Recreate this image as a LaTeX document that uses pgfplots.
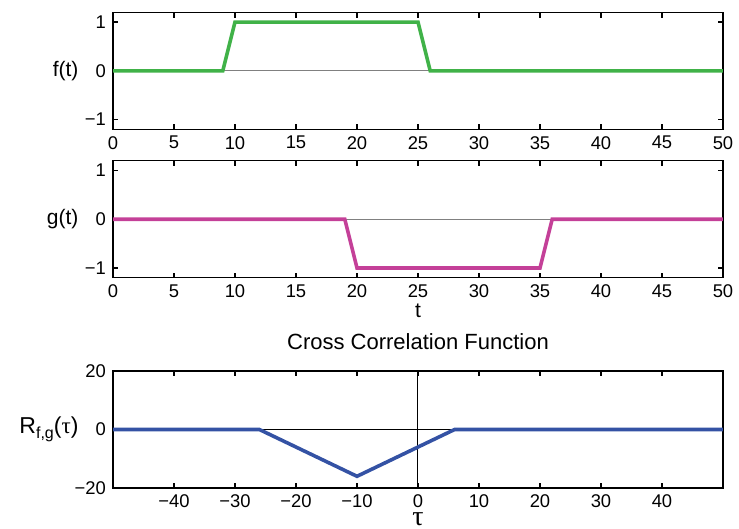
\documentclass[border=0pt]{standalone}
\usepackage{fontspec}
\setmainfont{Liberation Sans}
\newfontfamily\symf{Liberation Serif}
\usepackage{pgfplots}
\pgfplotsset{compat=1.18}

\definecolor{fgreen}{RGB}{64,178,72}
\definecolor{gmag}{RGB}{196,64,152}
\definecolor{rblue}{RGB}{52,82,164}

\pgfplotsset{
  sig/.style={
    scale only axis, width=305bp, height=58.5bp,
    axis line style={line width=0.7bp},
    tick style={line width=0.6bp, black},
    major tick length=2.6bp,
    /pgf/number format/assume math mode=true,
    tick label style={font=\fontsize{9.2bp}{11bp}\selectfont},
    every axis y label/.style={at={(axis description cs:-0.056,0.5)}, anchor=east,
      inner sep=0pt, font=\fontsize{10.5bp}{12bp}\selectfont},
  },
}

\begin{document}
\begin{tikzpicture}
\useasboundingbox (0,0) rectangle (369.5bp,-264.5bp);

% f(t)
\begin{axis}[sig, at={(56.5bp,-6.15bp)}, anchor=north west,
    xmin=0, xmax=50, ymin=-1.2, ymax=1.2,
    xtick={0,5,...,50}, ytick={-1,0,1}, yticklabels={−1,0,1},
    ylabel={f(t)}]
  \addplot[gray, line width=0.5bp] coordinates {(0,0) (50,0)};
  \addplot[fgreen, line width=1.8bp] coordinates {(0,0) (9,0) (10,1) (25,1) (26,0) (50,0)};
\end{axis}

% g(t)
\begin{axis}[sig, at={(56.5bp,-80.35bp)}, anchor=north west,
    xmin=0, xmax=50, ymin=-1.2, ymax=1.2,
    xtick={0,5,...,50}, ytick={-1,0,1}, yticklabels={−1,0,1},
    ylabel={g(t)}, xlabel={t},
    xlabel style={at={(axis description cs:0.5,0)}, anchor=base, yshift=-20bp,
      font=\fontsize{10.5bp}{12bp}\selectfont}]
  \addplot[gray, line width=0.5bp] coordinates {(0,0) (50,0)};
  \addplot[gmag, line width=1.8bp] coordinates {(0,0) (19,0) (20,-1) (35,-1) (36,0) (50,0)};
\end{axis}

% cross correlation
\begin{axis}[sig, at={(56.5bp,-185.5bp)}, anchor=north west,
    xmin=-50, xmax=50, ymin=-20, ymax=20,
    xtick={-40,-30,...,40}, xticklabels={−40,−30,−20,−10,0,10,20,30,40},
    ytick={-20,0,20}, yticklabels={−20,0,20},
    title={Cross Correlation Function},
    title style={at={(axis description cs:0.5,1)}, anchor=base, yshift=5bp,
      font=\fontsize{11bp}{13bp}\selectfont},
    ylabel={\fontsize{11.5bp}{13bp}\selectfont R\raisebox{-0.45ex}{\fontsize{8bp}{9bp}\selectfont f,g}({\symf τ})},
    xlabel={\symf τ},
    xlabel style={at={(axis description cs:0.5,0)}, anchor=base, yshift=-18.5bp,
      inner sep=0pt, font=\fontsize{14bp}{14bp}\selectfont}]
  \addplot[black, line width=0.5bp] coordinates {(-50,0) (50,0)};
  \addplot[black, line width=0.5bp] coordinates {(0,-20) (0,20)};
  \addplot[rblue, line width=1.8bp] coordinates {(-50,0) (-26,0) (-10,-16) (6,0) (50,0)};
\end{axis}
\end{tikzpicture}
\end{document}
